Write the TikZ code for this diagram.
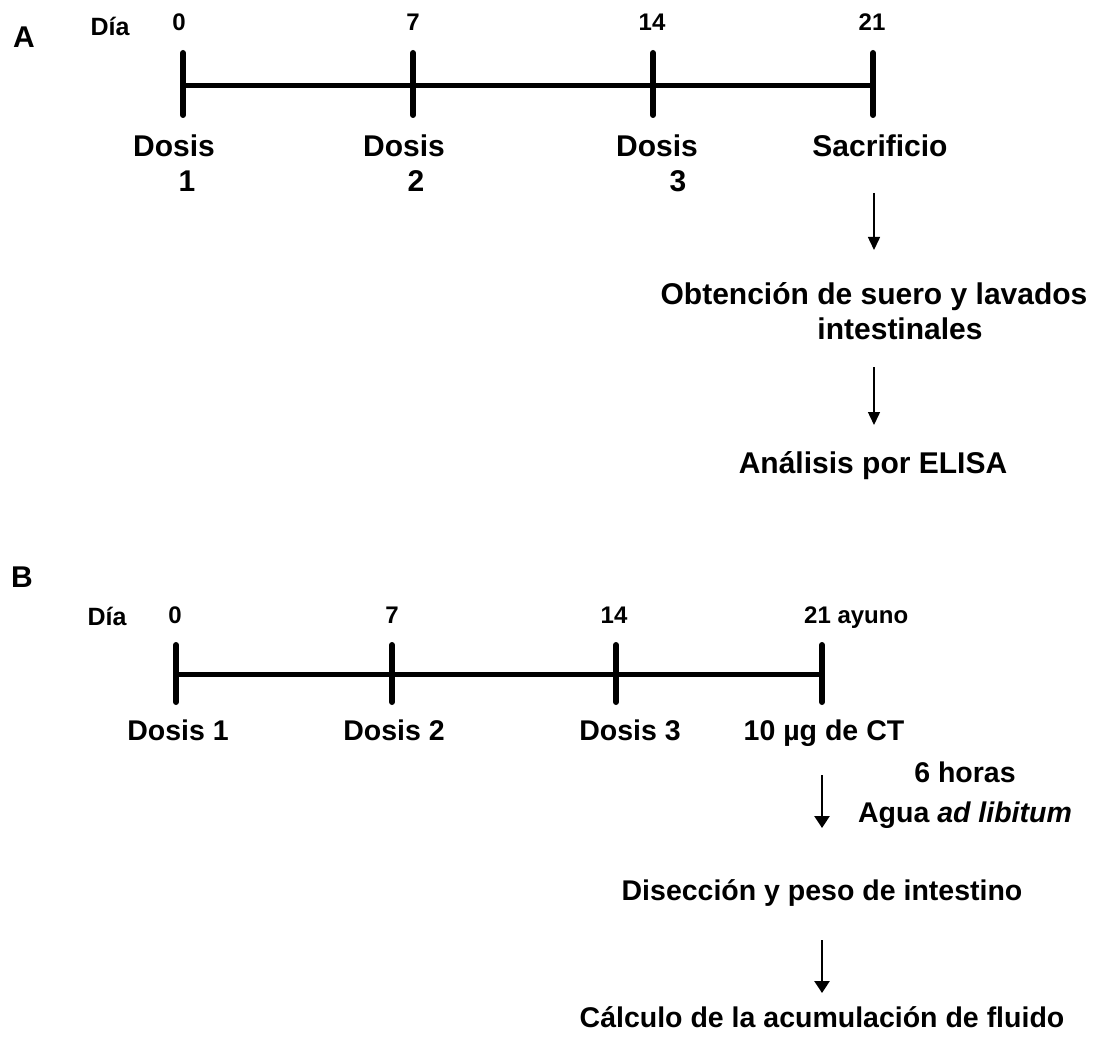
\documentclass[tikz,border=0pt]{standalone}
\usepackage{fontspec}
\setmainfont{Liberation Sans}
\usetikzlibrary{arrows.meta}
\begin{document}
\begin{tikzpicture}[x=1pt,y=-1pt,
  txt/.style={anchor=base,inner sep=0pt,font=\fontsize{30}{36}\selectfont\bfseries},
  txtb/.style={anchor=base,inner sep=0pt,font=\fontsize{28.5}{34}\selectfont\bfseries},
  num/.style={anchor=base,inner sep=0pt,font=\fontsize{24}{29}\selectfont\bfseries},
  dia/.style={anchor=base,inner sep=0pt,font=\fontsize{25}{30}\selectfont\bfseries},
  panel/.style={anchor=base,inner sep=0pt,font=\fontsize{30}{36}\selectfont\bfseries},
  axisline/.style={line width=5pt},
  ticksty/.style={line width=6pt,line cap=round},
  arrA/.style={line width=1.5pt,-{Triangle[length=13pt,width=12pt]}},
  arrB/.style={line width=2.7pt,-{Triangle[length=12pt,width=15pt]}},
]
\useasboundingbox (0,0) rectangle (1097,1040);

% ---------------- Panel A ----------------
\node[panel] (labA) at (24,48) {A};
\node[dia] (diaA) at (110,36) {Día};

\coordinate (tA0) at (183,86);
\coordinate (tA7) at (413,86);
\coordinate (tA14) at (653,86);
\coordinate (tA21) at (873,86);
\draw[axisline] (tA0) -- (tA21);
\foreach \x in {183,413,653,873} \draw[ticksty] (\x,53) -- (\x,115);

\node[num] (nA0) at (179,31) {0};
\node[num] (nA7) at (413,31) {7};
\node[num] (nA14) at (652,31) {14};
\node[num] (nA21) at (872,31) {21};

\node[txt] (dA1) at (174,157) {Dosis};
\node[txt] (dA1n) at (187,192) {1};
\node[txt] (dA2) at (404,157) {Dosis};
\node[txt] (dA2n) at (416,192) {2};
\node[txt] (dA3) at (657,157) {Dosis};
\node[txt] (dA3n) at (678,192) {3};
\node[txt] (sac) at (880,157) {Sacrificio};

\node[txt] (obt) at (874,305) {Obtención de suero y lavados};
\node[txt] (intl) at (900,340) {intestinales};
\node[txt] (elisa) at (873,473) {Análisis por ELISA};

\coordinate (a1s) at (874,193);
\coordinate (a1e) at (874,250);
\coordinate (a2s) at (874,367);
\coordinate (a2e) at (874,425);
\draw[arrA] (a1s) -- (a1e);
\draw[arrA] (a2s) -- (a2e);

% ---------------- Panel B ----------------
\node[panel] (labB) at (22,587) {B};
\node[dia] (diaB) at (107,625) {Día};

\coordinate (tB0) at (176,674);
\coordinate (tB21) at (822,674);
\draw[axisline] (tB0) -- (tB21);
\foreach \x in {176,392,616,822} \draw[ticksty] (\x,645) -- (\x,702);

\node[num] (nB0) at (175,623) {0};
\node[num] (nB7) at (392,623) {7};
\node[num] (nB14) at (614,623) {14};
\node[num,anchor=base west] (nB21) at (804,623) {21 ayuno};

\node[txtb] (dB1) at (178,740) {Dosis 1};
\node[txtb] (dB2) at (394,740) {Dosis 2};
\node[txtb] (dB3) at (630,740) {Dosis 3};
\node[txtb] (ct) at (824,740) {10 µg de CT};

\node[txtb] (hor) at (965,782) {6 horas};
\node[txtb] (agua) at (965,822) {Agua \textit{ad libitum}};

\node[txtb] (dis) at (822,900) {Disección y peso de intestino};
\node[txtb] (calc) at (822,1027) {Cálculo de la acumulación de fluido};

\coordinate (b1s) at (822,775);
\coordinate (b1e) at (822,828);
\coordinate (b2s) at (822,940);
\coordinate (b2e) at (822,993);
\draw[arrB] (b1s) -- (b1e);
\draw[arrB] (b2s) -- (b2e);
\end{tikzpicture}
\end{document}
